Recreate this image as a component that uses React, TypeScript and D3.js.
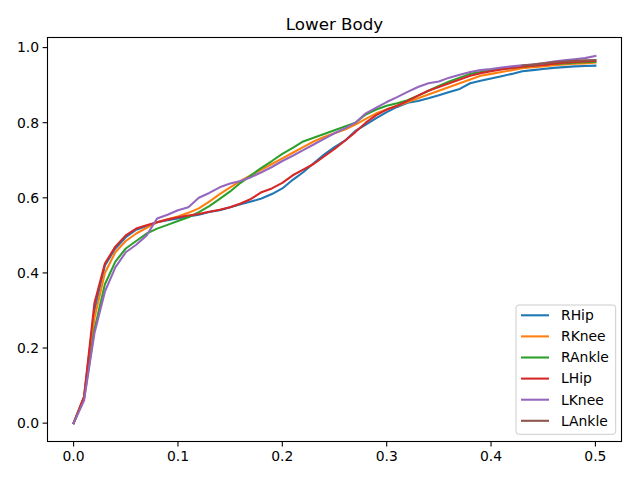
import React from "react";
import * as d3 from "d3";

const xs: number[] = d3.range(0, 51).map((i) => i / 100);

const seriesNames = ["RHip", "RKnee", "RAnkle", "LHip", "LKnee", "LAnkle"];
const colors = ["#1f77b4", "#ff7f0e", "#2ca02c", "#d62728", "#9467bd", "#8c564b"];

const rHip = [0, 0.07, 0.30, 0.42, 0.465, 0.495, 0.515, 0.525, 0.535, 0.54, 0.545, 0.55, 0.555, 0.562, 0.567, 0.575, 0.583, 0.59, 0.598, 0.61, 0.625, 0.648, 0.668, 0.692, 0.715, 0.735, 0.752, 0.778, 0.795, 0.812, 0.828, 0.842, 0.853, 0.858, 0.865, 0.873, 0.882, 0.89, 0.905, 0.912, 0.918, 0.924, 0.93, 0.937, 0.94, 0.943, 0.946, 0.948, 0.95, 0.951, 0.952];
const rKnee = [0, 0.07, 0.28, 0.40, 0.455, 0.485, 0.505, 0.52, 0.535, 0.543, 0.55, 0.56, 0.572, 0.59, 0.61, 0.628, 0.645, 0.66, 0.675, 0.69, 0.705, 0.72, 0.735, 0.75, 0.762, 0.772, 0.782, 0.795, 0.81, 0.825, 0.835, 0.845, 0.855, 0.865, 0.875, 0.885, 0.895, 0.905, 0.915, 0.925, 0.93, 0.935, 0.94, 0.945, 0.948, 0.95, 0.953, 0.955, 0.957, 0.958, 0.96];
const rAnkle = [0, 0.065, 0.25, 0.37, 0.43, 0.465, 0.485, 0.505, 0.518, 0.528, 0.538, 0.548, 0.562, 0.578, 0.597, 0.617, 0.64, 0.66, 0.68, 0.698, 0.717, 0.733, 0.75, 0.76, 0.77, 0.78, 0.79, 0.8, 0.822, 0.835, 0.845, 0.852, 0.86, 0.872, 0.885, 0.898, 0.91, 0.92, 0.93, 0.935, 0.94, 0.943, 0.946, 0.949, 0.952, 0.955, 0.957, 0.958, 0.96, 0.961, 0.962];
const lHip = [0, 0.07, 0.32, 0.425, 0.47, 0.5, 0.518, 0.527, 0.535, 0.542, 0.548, 0.553, 0.557, 0.563, 0.568, 0.575, 0.585, 0.597, 0.615, 0.625, 0.64, 0.66, 0.675, 0.69, 0.71, 0.73, 0.752, 0.775, 0.8, 0.82, 0.835, 0.845, 0.858, 0.872, 0.885, 0.895, 0.905, 0.915, 0.925, 0.932, 0.937, 0.942, 0.946, 0.949, 0.952, 0.954, 0.957, 0.96, 0.962, 0.963, 0.965];
const lKnee = [0, 0.06, 0.24, 0.35, 0.415, 0.455, 0.475, 0.5, 0.545, 0.555, 0.567, 0.575, 0.6, 0.613, 0.628, 0.638, 0.645, 0.655, 0.668, 0.682, 0.698, 0.712, 0.727, 0.742, 0.757, 0.772, 0.785, 0.8, 0.825, 0.84, 0.855, 0.868, 0.882, 0.895, 0.905, 0.91, 0.92, 0.928, 0.935, 0.94, 0.943, 0.947, 0.95, 0.953, 0.955, 0.958, 0.963, 0.966, 0.969, 0.972, 0.978];
const lAnkle: (number | null)[] = [null, null, null, null, null, null, null, null, null, null, null, null, null, null, null, null, null, null, null, null, null, null, null, null, null, null, null, null, null, null, null, null, null, null, null, null, null, null, null, null, null, null, null, 0.952, 0.955, 0.958, 0.961, 0.963, 0.965, 0.966, 0.967];

const allSeries: (number | null)[][] = [rHip, rKnee, rAnkle, lHip, lKnee, lAnkle];

const xTicks = [0, 0.1, 0.2, 0.3, 0.4, 0.5];
const yTicks = [0, 0.2, 0.4, 0.6, 0.8, 1.0];

const W = 640, H = 480;
const L = 47.5, R = 621.5, T = 37.5, B = 441.5;
const FONT = "DejaVu Sans, sans-serif";

export default function App() {
  const allY = allSeries.flat().filter((v): v is number => v !== null);
  const yMin = d3.min(allY)!, yMax = d3.max(allY)!;
  const yPad = (yMax - yMin) * 0.05;
  const xMin = d3.min(xs)!, xMax = d3.max(xs)!;
  const xPad = (xMax - xMin) * 0.05;
  const x = d3.scaleLinear().domain([xMin - xPad, xMax + xPad]).range([L, R]);
  const y = d3.scaleLinear().domain([yMin - yPad, yMax + yPad]).range([B, T]);

  const line = d3
    .line<number | null>()
    .defined((d) => d !== null)
    .x((_, i) => x(xs[i]))
    .y((d) => y(d as number));

  const legX = 516, legY = 305, legW = 99.7, legH = 129.3;
  const rowH = 21.1;

  return (
    <svg width={W} height={H} style={{ position: "absolute", left: 0, top: 0, background: "#fff" }} fontFamily={FONT}>
      <rect x={0} y={0} width={W} height={H} fill="#fff" />
      {allSeries.map((s, k) => (
        <path key={k} d={line(s) || ""} fill="none" stroke={colors[k]} strokeWidth={2.08} strokeLinejoin="round" strokeLinecap="square" />
      ))}
      <rect x={L} y={T} width={R - L} height={B - T} fill="none" stroke="#000" strokeWidth={1.1} />
      {xTicks.map((t) => (
        <g key={t}>
          <line x1={x(t)} x2={x(t)} y1={B} y2={B + 4.9} stroke="#000" strokeWidth={1.1} />
          <text x={x(t)} y={B + 8.5} dy="0.8em" textAnchor="middle" fontSize={13.9}>
            {t.toFixed(1)}
          </text>
        </g>
      ))}
      {yTicks.map((t) => (
        <g key={t}>
          <line x1={L} x2={L - 4.9} y1={y(t)} y2={y(t)} stroke="#000" strokeWidth={1.1} />
          <text x={L - 8.5} y={y(t)} dy="0.35em" textAnchor="end" fontSize={13.9}>
            {t.toFixed(1)}
          </text>
        </g>
      ))}
      <text x={(L + R) / 2} y={T - 8} textAnchor="middle" fontSize={16.7}>
        Lower Body
      </text>
      <rect x={legX} y={legY} width={legW} height={legH} rx={2.8} fill="#fff" fillOpacity={0.8} stroke="#ccc" strokeWidth={1} />
      {seriesNames.map((n, k) => {
        const cy = legY + 10.3 + k * rowH;
        return (
          <g key={n}>
            <line x1={legX + 5} x2={legX + 33} y1={cy} y2={cy} stroke={colors[k]} strokeWidth={2.08} />
            <text x={legX + 45} y={cy} dy="0.35em" fontSize={13.9}>
              {n}
            </text>
          </g>
        );
      })}
    </svg>
  );
}
